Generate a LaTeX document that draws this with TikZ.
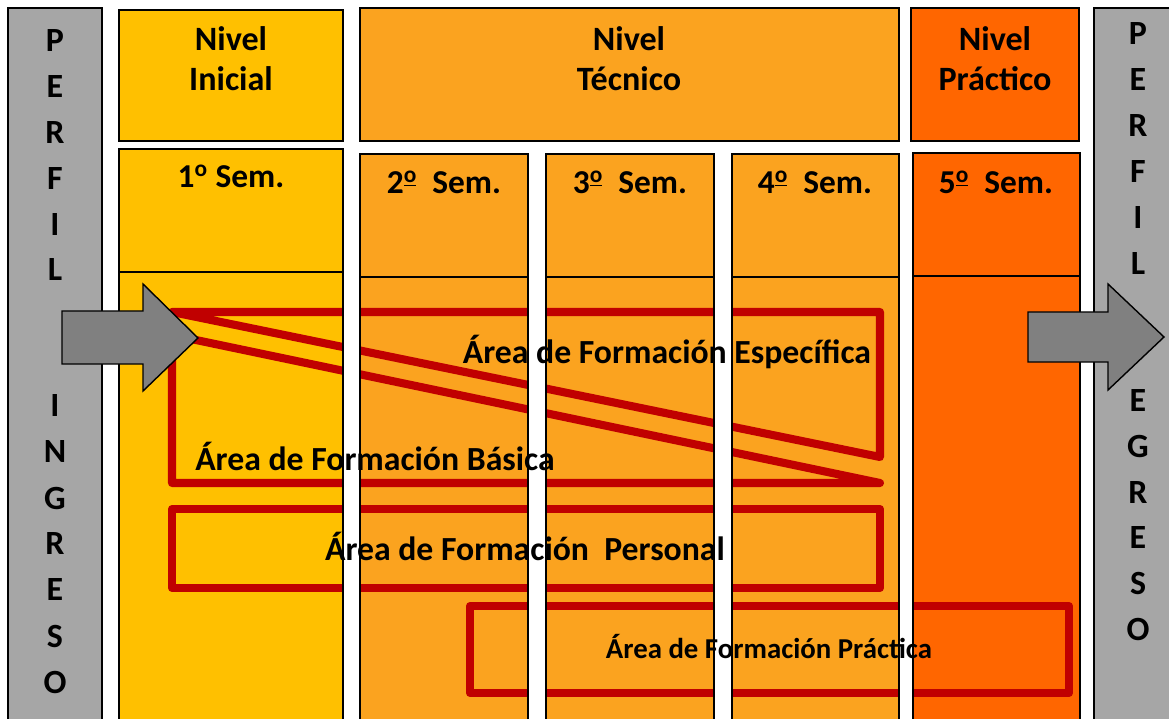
\documentclass[tikz,border=0pt]{standalone}
\usepackage{fontspec}
\setmainfont{Carlito}
\usetikzlibrary{positioning}
\definecolor{gris}{HTML}{A6A6A6}
\definecolor{flechagris}{HTML}{808080}
\definecolor{inicial}{HTML}{FFC000}
\definecolor{tecnico}{HTML}{FBA31F}
\definecolor{practico}{HTML}{FF6600}
\definecolor{rojo}{HTML}{C00000}
\newcommand{\ordo}{\textsuperscript{\underline{o}}}
\begin{document}
\begin{tikzpicture}[x=0.02cm, y=-0.02cm]
	\tikzset{caja/.style={draw=black, line width=1.1pt},
		area/.style={draw=rojo, line width=4.6pt, line join=round},
		rotulo/.style={font=\bfseries\fontsize{19.4}{22.7}\selectfont, align=center, inner sep=0pt},
		semestre/.style={font=\bfseries\fontsize{19}{21}\selectfont, inner sep=0pt, anchor=base},
		letra/.style={font=\bfseries\fontsize{19.3}{23}\selectfont, inner sep=0pt},
		etiqueta/.style={font=\bfseries\fontsize{19.2}{22}\selectfont, inner sep=0pt, anchor=base},
		flecha/.style={draw=black, fill=flechagris, line width=0.8pt, line join=miter}}

	\clip (0,0) rectangle (1169,719);

	% perfiles
	\draw[caja, fill=gris] (8,8) rectangle (102,740);
	\draw[caja, fill=gris] (1094,8) rectangle (1190,740);

	% niveles
	\draw[caja, fill=inicial] (119,10) rectangle (343,141);
	\draw[caja, fill=tecnico] (360,8) rectangle (899,141);
	\draw[caja, fill=practico] (911,8) rectangle (1079,141);

	% semestres
	\foreach \a/\b/\t/\c in {119/343/149/inicial, 360/528/154/tecnico, 546/714/154/tecnico, 732/899/154/tecnico, 913/1080/153/practico}
		\draw[caja, fill=\c] (\a,\t) rectangle (\b,740);
	\foreach \a/\b/\d in {119/343/272, 360/528/277, 546/714/277, 732/899/277, 913/1080/276}
		\draw[line width=0.7pt] (\a,\d) -- (\b,\d);

	% areas
	\draw[area] (172,312) -- (880,312) -- (880,457) -- cycle;
	\draw[area] (172,335) -- (880,483) -- (172,483) -- cycle;
	\draw[area] (172,509) rectangle (880,588);
	\draw[area] (470,606) rectangle (1069,693);

	% huecos entre columnas
	\foreach \a/\b in {343/360, 528/546, 714/732, 899/913, 1080/1094}
		\fill[white] (\a,147) rectangle (\b,740);
	\foreach \a/\b/\t in {119/343/149, 360/528/154, 546/714/154, 732/899/154, 913/1080/153}
		\draw[caja] (\a,\t) rectangle (\b,740);
	\draw[caja] (1094,8) rectangle (1190,740);

	% flechas
	\draw[flecha] (62,311) -- (143,311) -- (143,284) -- (198,338) -- (143,391) -- (143,364) -- (62,364) -- cycle;
	\draw[flecha] (1028,312) -- (1108,312) -- (1108,284) -- (1164,337) -- (1108,390) -- (1108,362) -- (1028,362) -- cycle;

	\node[rotulo] (ni) at (231,59) {Nivel\\Inicial};
	\node[rotulo] (nt) at (629,59) {Nivel\\Técnico};
	\node[rotulo] (np) at (995,59) {Nivel\\Práctico};

	\node[semestre] (s1) at (231,188) {1\textsuperscript{o} Sem.};
	\node[semestre] (s2) at (444,194) {2\ordo~~Sem.};
	\node[semestre] (s3) at (630,194) {3\ordo~~Sem.};
	\node[semestre] (s4) at (815,194) {4\ordo~~Sem.};
	\node[semestre] (s5) at (996,194) {5\ordo~~Sem.};

	\node[etiqueta] (ae) at (667,363) {Área de Formación Específica};
	\node[etiqueta] (ab) at (375,470) {Área de Formación Básica};
	\node[etiqueta] (ap) at (525,560) {Área de Formación~~Personal};
	\node[etiqueta, font=\bfseries\fontsize{16.4}{19}\selectfont] (ac) at (769,658) {Área de Formación Práctica};

	% letras
	\foreach \c [count=\i] in {P,E,R,F,I,L}
		\node[letra] (pi\i) at (55,41+45.8*\i-45.8) {\c};
	\foreach \c [count=\i] in {I,N,G,R,E,S,O}
		\node[letra] (in\i) at (55,406+46*\i-46) {\c};
	\foreach \c [count=\i] in {P,E,R,F,I,L}
		\node[letra] (pe\i) at (1138,34+46*\i-46) {\c};
	\foreach \c [count=\i] in {E,G,R,E,S,O}
		\node[letra] (eg\i) at (1138,401+45.6*\i-45.6) {\c};
\end{tikzpicture}
\end{document}
